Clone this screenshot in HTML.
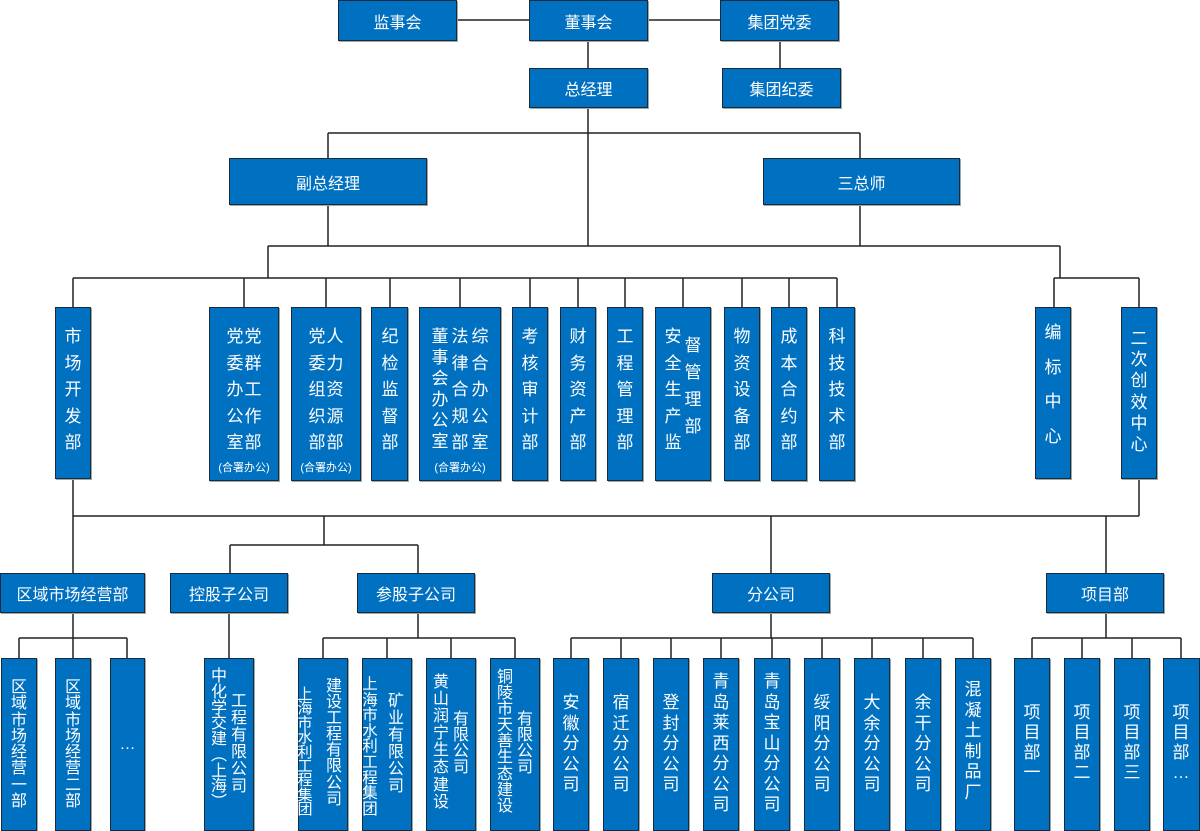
<!DOCTYPE html>
<html><head><meta charset="utf-8">
<style>
body{margin:0;width:1200px;height:831px;background:#fff;position:relative;overflow:hidden;font-family:"Liberation Sans","Noto Sans CJK SC",sans-serif;}
.b{position:absolute;background:#0070c0;border:1px solid #1a2a3a;box-sizing:border-box;box-shadow:1px 1px 0 #9aa;color:#fff;}
.h{display:flex;align-items:center;justify-content:center;font-size:16px;}
.t{position:absolute;width:24px;margin-left:-12px;text-align:center;color:#fff;font-size:17px;}
.s{position:absolute;color:#fff;font-size:11px;width:80px;margin-left:-40px;text-align:center;}
.bt{font-size:16px;}
svg{position:absolute;left:0;top:0;}
</style></head><body>
<svg width="1200" height="831"><g stroke="#222" stroke-width="1.5" fill="none">
<path d="M457 20H529M648 20H720M588 40V68M780 32V68"/>
<path d="M588 107V246M328 133H860M328 133V158M860 133V158"/>
<path d="M328 205V246M860 205V246M268 246H1060M268 246V278M1060 246V278M73 278H837M1054 278H1139"/>
<path d="M73 278V307M244 278V307M326 278V307M390 278V307M460 278V307M530 278V307M578 278V307M625 278V307M683 278V307M742 278V307M789 278V307M837 278V307M1054 278V307M1139 278V307"/>
<path d="M73 478V573M1139 478V516M73 516H1139M324 516V545M230 545H418M230 545V573M418 545V573M771 516V573M1106 516V573"/>
<path d="M73 613V638M19 638H127M19 638V658M73 638V658M127 638V658"/>
<path d="M229 613V658M418 613V638M323 638H515M323 638V658M387 638V658M451 638V658M515 638V658"/>
<path d="M771 613V638M571 638H973M571 638V658M621 638V658M671 638V658M721 638V658M772 638V658M822 638V658M872 638V658M923 638V658M973 638V658"/>
<path d="M1106 613V638M1032 638H1181M1032 638V658M1082 638V658M1132 638V658M1181 638V658"/>
</g></svg>

<div class="b h" style="left:338px;top:0;width:119px;height:41px">监事会</div>
<div class="b h" style="left:529px;top:0;width:119px;height:41px">董事会</div>
<div class="b h" style="left:720px;top:0;width:119px;height:41px">集团党委</div>
<div class="b h" style="left:529px;top:68px;width:119px;height:40px">总经理</div>
<div class="b h" style="left:722px;top:68px;width:119px;height:40px">集团纪委</div>
<div class="b h" style="left:229px;top:158px;width:198px;height:47px">副总经理</div>
<div class="b h" style="left:763px;top:158px;width:197px;height:47px">三总师</div>

<!-- middle row -->
<div class="b" style="left:55px;top:307px;width:36px;height:172px"></div>
<div class="b" style="left:209px;top:307px;width:70px;height:174px"></div>
<div class="b" style="left:291px;top:307px;width:70px;height:174px"></div>
<div class="b" style="left:371px;top:307px;width:37px;height:174px"></div>
<div class="b" style="left:419px;top:307px;width:82px;height:174px"></div>
<div class="b" style="left:512px;top:307px;width:36px;height:174px"></div>
<div class="b" style="left:560px;top:307px;width:36px;height:174px"></div>
<div class="b" style="left:607px;top:307px;width:36px;height:174px"></div>
<div class="b" style="left:655px;top:307px;width:56px;height:174px"></div>
<div class="b" style="left:724px;top:307px;width:36px;height:174px"></div>
<div class="b" style="left:771px;top:307px;width:36px;height:174px"></div>
<div class="b" style="left:819px;top:307px;width:36px;height:174px"></div>
<div class="b" style="left:1035px;top:307px;width:36px;height:172px"></div>
<div class="b" style="left:1121px;top:307px;width:36px;height:172px"></div>

<div class="t" style="left:73px;top:324px;line-height:26.5px">市<br>场<br>开<br>发<br>部</div>
<div class="t" style="left:235px;top:324px;line-height:26.5px">党<br>委<br>办<br>公<br>室</div>
<div class="t" style="left:253px;top:324px;line-height:26.5px">党<br>群<br>工<br>作<br>部</div>
<div class="s" style="left:244px;top:459px">(合署办公)</div>
<div class="t" style="left:317px;top:324px;line-height:26.5px">党<br>委<br>组<br>织<br>部</div>
<div class="t" style="left:335px;top:324px;line-height:26.5px">人<br>力<br>资<br>源<br>部</div>
<div class="s" style="left:326px;top:459px">(合署办公)</div>
<div class="t" style="left:390px;top:324px;line-height:26.5px">纪<br>检<br>监<br>督<br>部</div>
<div class="t" style="left:440px;top:326px;line-height:21px">董<br>事<br>会<br>办<br>公<br>室</div>
<div class="t" style="left:460px;top:324px;line-height:26.5px">法<br>律<br>合<br>规<br>部</div>
<div class="t" style="left:480px;top:324px;line-height:26.5px">综<br>合<br>办<br>公<br>室</div>
<div class="s" style="left:460px;top:459px">(合署办公)</div>
<div class="t" style="left:530px;top:324px;line-height:26.5px">考<br>核<br>审<br>计<br>部</div>
<div class="t" style="left:578px;top:324px;line-height:26.5px">财<br>务<br>资<br>产<br>部</div>
<div class="t" style="left:625px;top:324px;line-height:26.5px">工<br>程<br>管<br>理<br>部</div>
<div class="t" style="left:673px;top:324px;line-height:26.5px">安<br>全<br>生<br>产<br>监</div>
<div class="t" style="left:693px;top:332px;line-height:27px">督<br>管<br>理<br>部</div>
<div class="t" style="left:742px;top:324px;line-height:26.5px">物<br>资<br>设<br>备<br>部</div>
<div class="t" style="left:789px;top:324px;line-height:26.5px">成<br>本<br>合<br>约<br>部</div>
<div class="t" style="left:837px;top:324px;line-height:26.5px">科<br>技<br>技<br>术<br>部</div>
<div class="t" style="left:1053px;top:316px;line-height:34.7px">编<br>标<br>中<br>心</div>
<div class="t" style="left:1139px;top:328px;line-height:21.2px">二<br>次<br>创<br>效<br>中<br>心</div>

<!-- third row -->
<div class="b h" style="left:0;top:573px;width:145px;height:40px">区域市场经营部</div>
<div class="b h" style="left:170px;top:573px;width:118px;height:40px">控股子公司</div>
<div class="b h" style="left:357px;top:573px;width:118px;height:40px">参股子公司</div>
<div class="b h" style="left:712px;top:573px;width:118px;height:40px">分公司</div>
<div class="b h" style="left:1046px;top:573px;width:118px;height:40px">项目部</div>

<!-- bottom row boxes -->
<div class="b" style="left:1px;top:658px;width:36px;height:173px"></div>
<div class="b" style="left:55px;top:658px;width:36px;height:173px"></div>
<div class="b h" style="left:110px;top:658px;width:35px;height:173px">…</div>
<div class="b" style="left:204px;top:658px;width:50px;height:173px"></div>
<div class="b" style="left:298px;top:658px;width:50px;height:173px"></div>
<div class="b" style="left:362px;top:658px;width:50px;height:173px"></div>
<div class="b" style="left:426px;top:658px;width:50px;height:173px"></div>
<div class="b" style="left:490px;top:658px;width:50px;height:173px"></div>
<div class="b" style="left:553px;top:658px;width:36px;height:173px"></div>
<div class="b" style="left:603px;top:658px;width:36px;height:173px"></div>
<div class="b" style="left:653px;top:658px;width:36px;height:173px"></div>
<div class="b" style="left:703px;top:658px;width:36px;height:173px"></div>
<div class="b" style="left:754px;top:658px;width:36px;height:173px"></div>
<div class="b" style="left:804px;top:658px;width:36px;height:173px"></div>
<div class="b" style="left:854px;top:658px;width:36px;height:173px"></div>
<div class="b" style="left:905px;top:658px;width:36px;height:173px"></div>
<div class="b" style="left:955px;top:658px;width:36px;height:173px"></div>
<div class="b" style="left:1014px;top:658px;width:36px;height:173px"></div>
<div class="b" style="left:1064px;top:658px;width:36px;height:173px"></div>
<div class="b" style="left:1114px;top:658px;width:36px;height:173px"></div>
<div class="b" style="left:1163px;top:658px;width:37px;height:173px"></div>

<div class="t bt" style="left:19px;top:680px;line-height:16.3px">区<br>域<br>市<br>场<br>经<br>营<br>一<br>部</div>
<div class="t bt" style="left:73px;top:680px;line-height:16.3px">区<br>域<br>市<br>场<br>经<br>营<br>二<br>部</div>
<div class="t bt" style="left:219px;top:669px;line-height:15.75px">中<br>化<br>学<br>交<br>建<br>︵<br>上<br>海<br>︶</div>
<div class="t bt" style="left:239px;top:693px;line-height:17px">工<br>程<br>有<br>限<br>公<br>司</div>
<div class="t" style="left:305px;top:688px;line-height:14.4px;font-size:15px">上<br>海<br>市<br>水<br>利<br>工<br>程<br>集<br>团</div>
<div class="t bt" style="left:334px;top:679px;line-height:16.1px">建<br>设<br>工<br>程<br>有<br>限<br>公<br>司</div>
<div class="t" style="left:370px;top:677px;line-height:15.6px;font-size:15.5px">上<br>海<br>市<br>水<br>利<br>工<br>程<br>集<br>团</div>
<div class="t bt" style="left:396px;top:693px;line-height:17px">矿<br>业<br>有<br>限<br>公<br>司</div>
<div class="t bt" style="left:441px;top:674px;line-height:17.1px">黄<br>山<br>润<br>宁<br>生<br>态<br>建<br>设</div>
<div class="t bt" style="left:461px;top:712px;line-height:16px">有<br>限<br>公<br>司</div>
<div class="t bt" style="left:505px;top:670px;line-height:16.1px">铜<br>陵<br>市<br>天<br>善<br>生<br>态<br>建<br>设</div>
<div class="t bt" style="left:525px;top:712px;line-height:16px">有<br>限<br>公<br>司</div>

<div class="t" style="left:571px;top:693px;line-height:20.5px">安<br>徽<br>分<br>公<br>司</div>
<div class="t" style="left:621px;top:693px;line-height:20.5px">宿<br>迁<br>分<br>公<br>司</div>
<div class="t" style="left:671px;top:693px;line-height:20.5px">登<br>封<br>分<br>公<br>司</div>
<div class="t" style="left:721px;top:672px;line-height:20.5px">青<br>岛<br>莱<br>西<br>分<br>公<br>司</div>
<div class="t" style="left:772px;top:672px;line-height:20.5px">青<br>岛<br>宝<br>山<br>分<br>公<br>司</div>
<div class="t" style="left:822px;top:693px;line-height:20.5px">绥<br>阳<br>分<br>公<br>司</div>
<div class="t" style="left:872px;top:693px;line-height:20.5px">大<br>余<br>分<br>公<br>司</div>
<div class="t" style="left:923px;top:693px;line-height:20.5px">余<br>干<br>分<br>公<br>司</div>
<div class="t" style="left:973px;top:680px;line-height:20.5px">混<br>凝<br>土<br>制<br>品<br>厂</div>

<div class="t" style="left:1032px;top:703px;line-height:20px">项<br>目<br>部<br>一</div>
<div class="t" style="left:1082px;top:703px;line-height:20px">项<br>目<br>部<br>二</div>
<div class="t" style="left:1132px;top:703px;line-height:20px">项<br>目<br>部<br>三</div>
<div class="t" style="left:1181px;top:703px;line-height:20px">项<br>目<br>部<br>…</div>
</body></html>
